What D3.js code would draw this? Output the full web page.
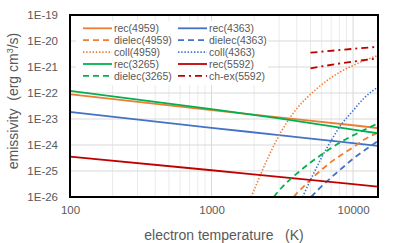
<!DOCTYPE html>
<html>
<head>
<meta charset="utf-8">
<script src="https://cdn.jsdelivr.net/npm/d3@7"></script>
<style>
  body { margin: 0; background: #fff; }
  svg { display: block; font-family: "Liberation Sans", Arial, sans-serif; }
</style>
</head>
<body>
<svg id="chart" width="407" height="243"></svg>
<script>
// values (emissivity, erg cm^3/s)
const tRec = [100, 1000, 3000, 10000, 15000];
const rec4959 = [8.9e-23, 2.19e-23, 1.15e-23, 5.75e-24, 4.47e-24];
const rec4363 = [1.86e-23, 4.57e-24, 2.4e-24, 1.17e-24, 9.3e-25];
const rec3265 = [1.2e-22, 2.4e-23, 1.05e-23, 3.89e-24, 2.82e-24];
const rec5592 = [3.55e-25, 1.07e-25, 5.9e-26, 3.1e-26, 2.5e-26];

const tDielec4959 = [3800, 4000, 4500, 5000, 6000, 7000, 8000, 10000, 12000, 15000];
const dielec4959 = [1.0e-26, 1.38e-26, 2.6e-26, 4.7e-26, 1.12e-25, 2.24e-25, 3.7e-25, 8.1e-25, 1.62e-24, 3.0e-24];
const tDielec4363 = [5050, 6000, 7000, 8000, 10000, 12000, 15000];
const dielec4363 = [1.0e-26, 2.6e-26, 5.6e-26, 1.05e-25, 2.95e-25, 6.2e-25, 1.41e-24];
const tDielec3265 = [2750, 3000, 3500, 4000, 5000, 6000, 7000, 8000, 10000, 12000, 15000];
const dielec3265 = [1.0e-26, 1.78e-26, 4.2e-26, 7.9e-26, 2.14e-25, 4.3e-25, 7.6e-25, 1.2e-24, 2.34e-24, 3.8e-24, 6.8e-24];

const tColl4959 = [1900, 2000, 2500, 3000, 4000, 5000, 6000, 8000, 10000, 12000, 15000];
const coll4959 = [1.0e-26, 1.9e-26, 3.16e-25, 2.34e-24, 2.5e-23, 8.9e-23, 2.1e-22, 6.2e-22, 1.15e-21, 1.78e-21, 2.75e-21];
const tColl4363 = [4400, 5000, 6000, 7000, 8000, 10000, 12000, 15000];
const coll4363 = [1.0e-26, 4.5e-26, 3.3e-25, 1.48e-24, 4.8e-24, 2.1e-23, 6.5e-23, 1.7e-22];

const tChex = [5000, 10000, 15000];
const chex5592 = [3.55e-21, 5.0e-21, 6.0e-21];
const chex5592b = [8.9e-22, 1.62e-21, 2.14e-21];

const xTicks = [100, 1000, 10000];
const yTicks = [1e-26, 1e-25, 1e-24, 1e-23, 1e-22, 1e-21, 1e-20, 1e-19];

const orange = '#ED7D31', blue = '#4472C4', green = '#00B050', red = '#C00000';
const solid = null, dashed = '6,4', dotted = '1.4,1.8', dashdot = '7,4,2,4';

// order matches the Excel series order (legend reads row by row)
const series = [
  {name: 'rec(4959)', t: tRec, v: rec4959, color: orange, dash: solid},
  {name: 'rec(4363)', t: tRec, v: rec4363, color: blue, dash: solid},
  {name: 'dielec(4959)', t: tDielec4959, v: dielec4959, color: orange, dash: dashed},
  {name: 'dielec(4363)', t: tDielec4363, v: dielec4363, color: blue, dash: dashed},
  {name: 'coll(4959)', t: tColl4959, v: coll4959, color: orange, dash: dotted},
  {name: 'coll(4363)', t: tColl4363, v: coll4363, color: blue, dash: dotted},
  {name: 'rec(3265)', t: tRec, v: rec3265, color: green, dash: solid},
  {name: 'rec(5592)', t: tRec, v: rec5592, color: red, dash: solid},
  {name: 'dielec(3265)', t: tDielec3265, v: dielec3265, color: green, dash: dashed},
  {name: 'ch-ex(5592)', t: tChex, v: chex5592, color: red, dash: dashdot},
  {name: null, t: tChex, v: chex5592b, color: red, dash: dashdot}
];

const svg = d3.select('#chart');
const pL = 70, pR = 378, pT = 15, pB = 197;

const x = d3.scaleLog().domain([100, 15000]).range([pL, pR]);
const y = d3.scaleLog().domain([1e-26, 1e-19]).range([pB, pT]);

// grid
const grid = svg.append('g');
grid.selectAll('.vminor')
  .data(x.ticks().filter(d => !xTicks.includes(d)))
  .join('line')
  .attr('x1', d => x(d)).attr('x2', d => x(d))
  .attr('y1', pT).attr('y2', pB)
  .attr('stroke', '#ebebeb').attr('stroke-width', 1);
grid.selectAll('.vmajor')
  .data(xTicks)
  .join('line')
  .attr('x1', d => x(d)).attr('x2', d => x(d))
  .attr('y1', pT).attr('y2', pB)
  .attr('stroke', '#d9d9d9').attr('stroke-width', 1);
grid.selectAll('.h')
  .data(yTicks)
  .join('line')
  .attr('x1', pL).attr('x2', pR)
  .attr('y1', d => y(d)).attr('y2', d => y(d))
  .attr('stroke', '#d9d9d9').attr('stroke-width', 1);

svg.append('clipPath').attr('id', 'clip')
  .append('rect')
  .attr('x', pL).attr('y', pT)
  .attr('width', pR - pL).attr('height', pB - pT);

const line = d3.line()
  .x(d => x(d[0]))
  .y(d => y(d[1]))
  .curve(d3.curveMonotoneX);

const plot = svg.append('g').attr('clip-path', 'url(#clip)');

series.forEach(s => {
  plot.append('path')
    .datum(d3.zip(s.t, s.v))
    .attr('d', line)
    .attr('fill', 'none')
    .attr('stroke', s.color)
    .attr('stroke-width', s.dash === dotted ? 1.6 : 1.8)
    .attr('stroke-dasharray', s.dash);
});

// legend box sits over the grid and the data
const legendG = svg.append('g');
legendG.append('rect')
  .attr('x', 76).attr('y', 21)
  .attr('width', 192).attr('height', 64)
  .attr('fill', '#fff');

// frame
svg.append('rect')
  .attr('x', pL).attr('y', pT)
  .attr('width', pR - pL).attr('height', pB - pT)
  .attr('fill', 'none')
  .attr('stroke', '#000')
  .attr('stroke-width', 2);

// axes
const xAxis = svg.append('g')
  .attr('transform', `translate(0,${pB + 6})`)
  .call(d3.axisBottom(x).tickValues(xTicks).tickSize(0).tickFormat(d3.format('d')));
xAxis.select('.domain').remove();
xAxis.selectAll('text')
  .attr('fill', '#595959')
  .style('font-size', '11.5px')
  .style('font-family', '"Liberation Sans", Arial, sans-serif');

const yAxis = svg.append('g')
  .attr('transform', `translate(${pL - 8},0)`)
  .call(d3.axisLeft(y).tickValues(yTicks).tickSize(0)
    .tickFormat(d => '1E' + Math.round(Math.log10(d))));
yAxis.select('.domain').remove();
yAxis.selectAll('text')
  .attr('fill', '#595959')
  .attr('x', -4)
  .style('font-size', '11.5px')
  .style('font-family', '"Liberation Sans", Arial, sans-serif');

svg.append('text')
  .attr('x', 224).attr('y', 240)
  .attr('text-anchor', 'middle')
  .attr('fill', '#595959')
  .style('font-size', '14px')
  .style('white-space', 'pre')
  .text('electron temperature   (K)');

const yTitle = svg.append('text')
  .attr('transform', 'translate(18,101) rotate(-90)')
  .attr('text-anchor', 'middle')
  .attr('fill', '#595959')
  .style('font-size', '14px')
  .style('white-space', 'pre');
yTitle.append('tspan').text('emissivity  (erg cm');
yTitle.append('tspan').attr('dy', -5).style('font-size', '9px').text('3');
yTitle.append('tspan').attr('dy', 5).text('/s)');

// legend entries, two columns, filled row by row
const legendItems = series.filter(s => s.name);
legendItems.forEach((s, i) => {
  const col = i % 2, row = Math.floor(i / 2);
  const lx = col === 0 ? 83 : 178;
  const ly = 28.3 + row * 11.9;
  legendG.append('line')
    .attr('x1', lx).attr('x2', lx + 29)
    .attr('y1', ly).attr('y2', ly)
    .attr('stroke', s.color)
    .attr('stroke-width', s.dash === dotted ? 1.6 : 1.8)
    .attr('stroke-dasharray', s.dash);
  legendG.append('text')
    .attr('x', lx + 31).attr('y', ly)
    .attr('dy', '0.35em')
    .attr('fill', '#595959')
    .style('font-size', '10.5px')
    .text(s.name);
});
</script>
</body>
</html>
